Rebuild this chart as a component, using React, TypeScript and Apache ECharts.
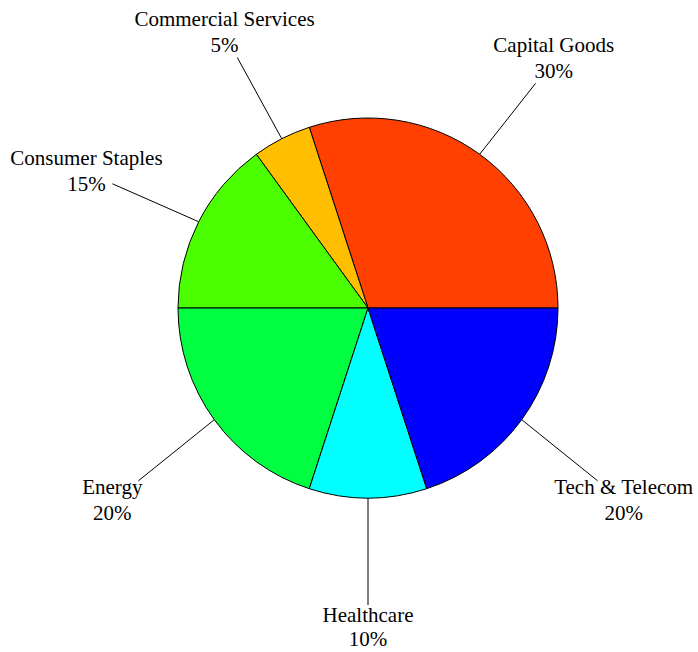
import React, { useEffect, useRef } from "react";
import * as echarts from "echarts";

const categories = [
  "Capital Goods",
  "Commercial Services",
  "Consumer Staples",
  "Energy",
  "Healthcare",
  "Tech & Telecom",
];
const values = [30, 5, 15, 20, 10, 20];
const colors = ["#FF4000", "#FFBF00", "#4CFF00", "#00FF40", "#00FFFF", "#0000FF"];

const W = 698;
const H = 652;
const CX = 368;
const CY = 308;
const R = 190;
const LABEL_R = 316;

export default function App() {
  const ref = useRef<HTMLDivElement>(null);
  useEffect(() => {
    document.body.style.margin = "0";
    const chart = echarts.init(ref.current!, null, { renderer: "svg" });
    const total = values.reduce((a, b) => a + b, 0);
    const midAngles: number[] = [];
    let acc = 0;
    values.forEach((v) => {
      midAngles.push(((acc + v / 2) / total) * Math.PI * 2);
      acc += v;
    });
    chart.setOption({
      animation: false,
      series: [
        {
          type: "pie",
          center: [CX, CY],
          radius: R,
          startAngle: 0,
          clockwise: false,
          avoidLabelOverlap: false,
          itemStyle: { borderColor: "#000", borderWidth: 1 },
          label: {
            show: true,
            position: "outside",
            formatter: (p: any) => `${p.name}\n${p.value}%`,
            fontFamily: "Liberation Serif",
            fontSize: 21,
            lineHeight: 26,
            color: "#000",
            align: "center",
          },
          labelLine: {
            show: true,
            length: 20,
            length2: 0,
            lineStyle: { color: "#000", width: 1 },
          },
          emphasis: { disabled: true },
          labelLayout: (params: any) => {
            const a = midAngles[params.dataIndex];
            const dx = Math.cos(a);
            const dy = -Math.sin(a);
            const lx = CX + LABEL_R * dx;
            const halfH = params.labelRect ? params.labelRect.height / 2 : 26;
            const ly = Math.min(CY + LABEL_R * dy + 6, H - 1 - halfH);
            const hw = 26;
            const hh = 25;
            const tx = Math.abs(dx) > 1e-6 ? hw / Math.abs(dx) : Infinity;
            const ty = Math.abs(dy) > 1e-6 ? hh / Math.abs(dy) : Infinity;
            const t = Math.min(tx, ty);
            const ex = lx - t * dx;
            const ey = CY + LABEL_R * dy + 6 - t * dy;
            return {
              x: Math.max(Math.min(lx, W - 1 - params.labelRect.width / 2), 1 + params.labelRect.width / 2),
              y: ly,
              align: "center",
              verticalAlign: "middle",
              labelLinePoints: [
                [CX + R * dx, CY + R * dy],
                [ex, ey],
              ],
            };
          },
          data: categories.map((c, i) => ({
            name: c,
            value: values[i],
            itemStyle: { color: colors[i] },
            label: c === "Healthcare" ? { lineHeight: 24 } : undefined,
          })),
        },
      ],
    });
    return () => chart.dispose();
  }, []);
  return <div ref={ref} style={{ width: W, height: H }} />;
}
